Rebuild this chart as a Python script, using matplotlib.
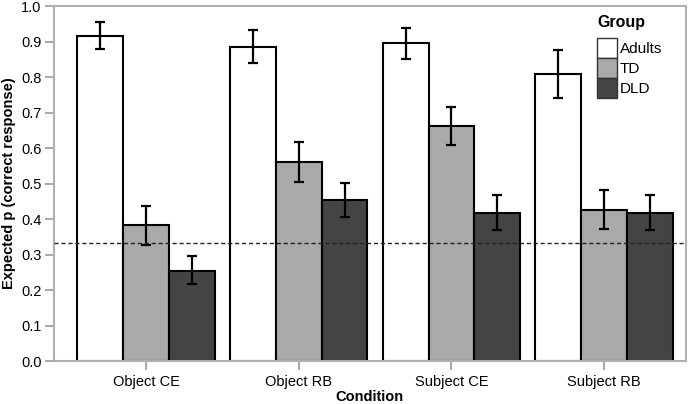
import matplotlib
matplotlib.use('Agg')
import matplotlib.pyplot as plt
import numpy as np

conditions = ['Object CE', 'Object RB', 'Subject CE', 'Subject RB']
groups = ['Adults', 'TD', 'DLD']
colors = ['white', '#aaaaaa', '#444444']

# estimated probabilities and interval bounds per group
means = {
    'Adults': [0.917, 0.886, 0.895, 0.809],
    'TD':     [0.383, 0.562, 0.662, 0.427],
    'DLD':    [0.255, 0.453, 0.418, 0.418],
}
lower = {
    'Adults': [0.879, 0.840, 0.850, 0.740],
    'TD':     [0.327, 0.505, 0.608, 0.372],
    'DLD':    [0.218, 0.405, 0.370, 0.370],
}
upper = {
    'Adults': [0.955, 0.933, 0.939, 0.877],
    'TD':     [0.438, 0.618, 0.715, 0.482],
    'DLD':    [0.295, 0.502, 0.467, 0.467],
}
chance = 1 / 3

plt.rcParams['font.family'] = ['Liberation Sans', 'DejaVu Sans']

fig, ax = plt.subplots(figsize=(6.95, 4.04), dpi=100)
fig.subplots_adjust(left=0.077, right=0.987, top=0.985, bottom=0.106)

x = np.arange(len(conditions))
width = 0.3
for i, g in enumerate(groups):
    pos = x + (i - 1) * width
    m = np.array(means[g])
    err = [m - np.array(lower[g]), np.array(upper[g]) - m]
    ax.bar(pos, m, width, color=colors[i], edgecolor='black', linewidth=1.5,
           label=g, zorder=2)
    ax.errorbar(pos, m, yerr=err, fmt='none', ecolor='black', elinewidth=1.6,
                capsize=3.8, capthick=1.6, zorder=3)

ax.axhline(chance, color='#222222', linestyle=(0, (3, 2)), linewidth=1, zorder=4)

ax.set_xlim(-0.605, 3.535)
ax.set_ylim(0, 1.0)
ax.set_yticks(np.arange(0, 1.01, 0.1))
ax.set_yticklabels([f'{v:.1f}' for v in np.arange(0, 1.01, 0.1)])
ax.set_xticks(x)
ax.set_xticklabels(conditions)
ax.tick_params(axis='both', labelsize=10.5, color='#999999', length=6.5, width=1.2)
ax.tick_params(axis='y', pad=2)
for s in ax.spines.values():
    s.set_color('#b0b0b0')
    s.set_linewidth(1.5)

ax.set_xlabel('Condition', fontweight='bold', fontsize=10.5, labelpad=1)
ax.set_ylabel('Expected p (correct response)', fontweight='bold', fontsize=10.5, labelpad=4)

leg = ax.legend(title='Group', loc='upper right', bbox_to_anchor=(0.962, 0.975),
                frameon=False, fontsize=11, handlelength=1.28, handleheight=1.64,
                labelspacing=0, handletextpad=0.2, borderaxespad=0,
                borderpad=0)
leg.get_title().set_fontweight('bold')
leg.get_title().set_fontsize(11.5)
leg._legend_box.align = 'left'
leg._legend_box.sep = 6
for h in leg.legend_handles:
    h.set_edgecolor('#333333')
    h.set_linewidth(1)

fig.savefig('out.png', dpi=100)
